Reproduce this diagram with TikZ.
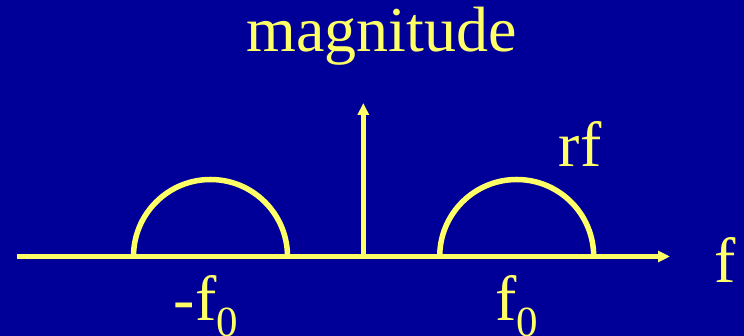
\documentclass[tikz,border=0pt]{standalone}
\usepackage{fontspec}
\setmainfont{Liberation Serif}
\usetikzlibrary{arrows.meta}
\definecolor{slideblue}{RGB}{0,0,153}
\definecolor{slideyellow}{RGB}{255,255,102}
\newcommand{\subidx}[1]{\raisebox{-16pt}{\fontsize{43}{43}\selectfont #1}}

\begin{document}
\begin{tikzpicture}[x=1pt,y=1pt,
  axis/.style={line width=5.5pt,slideyellow,-{Triangle[length=12pt,width=11pt]}},
  lobe/.style={line width=5.5pt,slideyellow},
  lbl/.style={text=slideyellow,font=\fontsize{64}{64}\selectfont,inner sep=0pt,anchor=base}]

% Background (fixes the page size)
\fill[slideblue] (0,0) rectangle (744,336);
\useasboundingbox (0,0) rectangle (744,336);

% Axis end points
\coordinate (origin) at (363.3,79.5);
\coordinate (fstart) at (17.3,79.5);
\coordinate (fend) at (670,79.5);
\coordinate (mtop) at (363.3,233);

% Frequency axis and magnitude axis
\draw[axis] (fstart) -- (fend);
\draw[axis] (origin) -- (mtop);

% Spectrum lobes at -f0 and f0
\draw[lobe] (133.5,79.5) arc[start angle=180,end angle=0,radius=77];
\draw[lobe] (439.7,79.5) arc[start angle=180,end angle=0,radius=77];

% Labels
\node[lbl] (mag) at (381.5,284.3) {magnitude};
\node[lbl] (rf) at (580,169.3) {rf};
\node[lbl] (freq) at (725,53) {f};
\node[lbl] (negf) at (206,15.3) {-f\subidx{0}};
\node[lbl] (posf) at (517,15.3) {f\subidx{0}};

\end{tikzpicture}
\end{document}
